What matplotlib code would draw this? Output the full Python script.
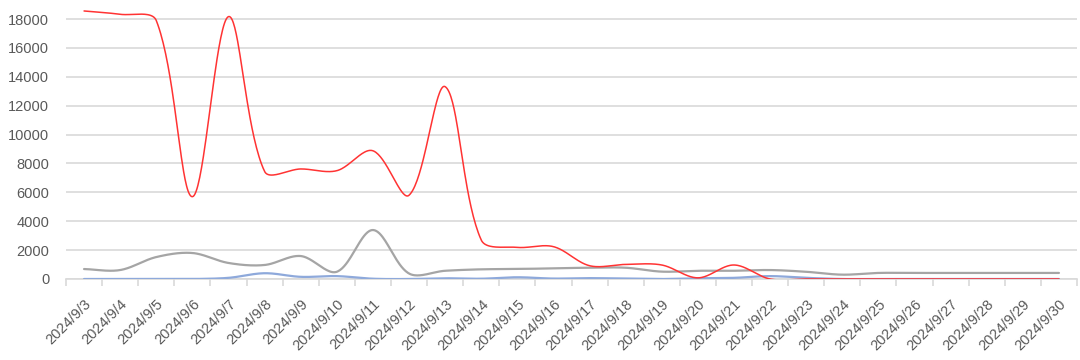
import numpy as np
import matplotlib
matplotlib.use("Agg")
import matplotlib.pyplot as plt

# Data
dates = ["2024/9/%d" % d for d in range(3, 31)]
red_vals = [18560, 18330, 17900, 5700, 18170, 7450, 7620, 7500, 8880, 5800,
            13320, 2700, 2190, 2240, 920, 1010, 970, 80, 970, 0,
            0, 0, 0, 0, 0, 0, 0, 0]
gray_vals = [690, 620, 1520, 1800, 1110, 970, 1590, 500, 3390, 380,
             570, 670, 690, 740, 780, 780, 510, 570, 570, 620,
             500, 300, 420, 420, 420, 420, 420, 420]
blue_vals = [0, 0, 0, 0, 80, 400, 150, 200, 20, 0,
             50, 20, 120, 30, 60, 30, 0, 50, 80, 200,
             80, 0, 0, 0, 0, 0, 0, 0]

text_color = "#595959"
grid_color = "#D9D9D9"

# pixel scale, used to weight the smoothing like Excel does on screen
SX = 36.1          # px per category
SY = 14.44 / 1000  # px per unit


def smooth(xs, ys, n=40):
    # bezier through the points, tangents weighted by segment length
    p = np.column_stack([np.asarray(xs, float) * SX, np.asarray(ys, float) * SY])
    m = len(p)
    cin = np.zeros_like(p)
    cout = np.zeros_like(p)
    for i in range(m):
        prev = p[max(i - 1, 0)]
        nxt = p[min(i + 1, m - 1)]
        T = nxt - prev
        lp = np.hypot(*(p[i] - prev))
        ln = np.hypot(*(nxt - p[i]))
        tot = lp + ln
        if tot == 0:
            cin[i] = cout[i] = p[i]
            continue
        cout[i] = p[i] + T * ln / tot / 3
        cin[i] = p[i] - T * lp / tot / 3
    t = np.linspace(0, 1, n)[:, None]
    out = []
    for i in range(m - 1):
        b = (1 - t) ** 3 * p[i] + 3 * (1 - t) ** 2 * t * cout[i] \
            + 3 * (1 - t) * t ** 2 * cin[i + 1] + t ** 3 * p[i + 1]
        out.append(b)
    out = np.vstack(out)
    return out[:, 0] / SX, out[:, 1] / SY


plt.rcParams['font.family'] = ['Liberation Sans', 'DejaVu Sans']

fig = plt.figure(figsize=(10.8, 3.6), dpi=100)
ax = fig.add_axes([66 / 1080, 1 - 279 / 360, (1077 - 66) / 1080, 279 / 360])

x = np.arange(len(dates))
for vals, col, lw, z in [(blue_vals, "#8EA9DB", 1.6, 3),
                         (gray_vals, "#A5A5A5", 1.6, 4),
                         (red_vals, "#FF3333", 1.1, 5)]:
    sx, sy = smooth(x, vals)
    ax.plot(sx, sy, color=col, lw=lw, zorder=z, solid_capstyle="round")

ax.set_xlim(-0.5, len(dates) - 0.5)
ax.set_ylim(0, 19320)
ax.set_yticks(range(0, 18001, 2000))
ax.yaxis.grid(True, color=grid_color, lw=1.2)
ax.set_axisbelow(True)

for s in ["top", "right", "left"]:
    ax.spines[s].set_visible(False)
ax.spines["bottom"].set_color(grid_color)
ax.spines["bottom"].set_linewidth(1.2)
ax.spines["bottom"].set_zorder(2)

ax.set_xticks(x)
ax.set_xticklabels(dates, rotation=45, ha="right", va="top", rotation_mode="anchor")
ax.set_xticks(np.arange(-0.5, len(dates), 1), minor=True)
ax.tick_params(axis="x", which="major", length=0, pad=13, labelsize=10.5, labelcolor=text_color)
ax.tick_params(axis="x", which="minor", length=5, color=grid_color, width=1.2)
ax.tick_params(axis="y", length=0, pad=12, labelsize=10.5, labelcolor=text_color)

fig.savefig("out.png", dpi=100)
